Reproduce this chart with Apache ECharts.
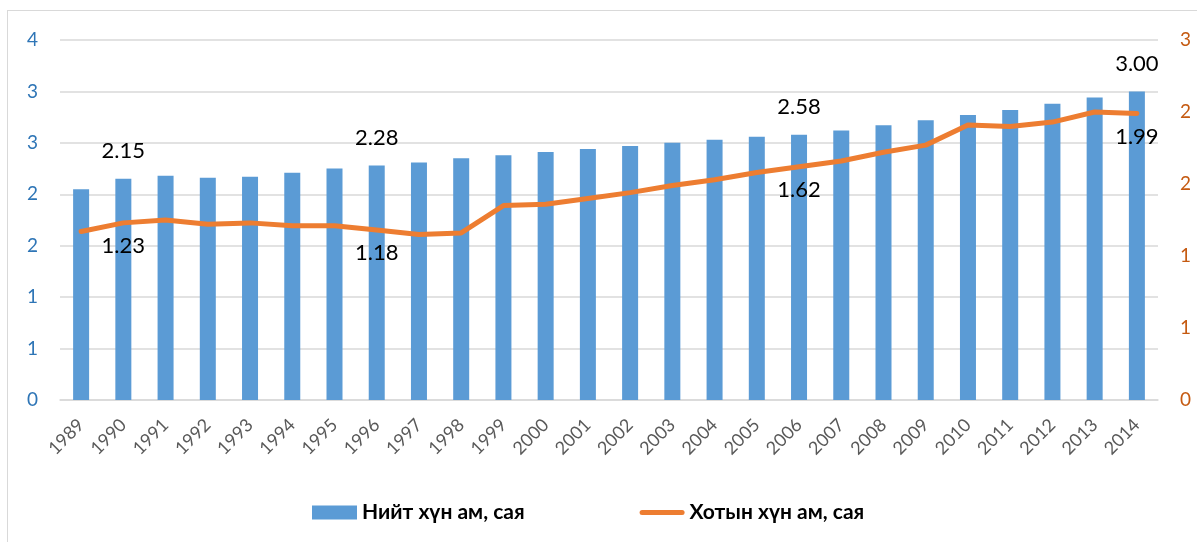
<!DOCTYPE html>
<html>
<head>
<meta charset="utf-8">
<script src="https://cdn.jsdelivr.net/npm/echarts@6/dist/echarts.min.js"></script>
<style>
  html, body { margin: 0; padding: 0; background: #fff; }
  #frame { position: absolute; left: 7px; top: 10px; width: 1300px; height: 600px;
           border-left: 1px solid #d9d9d9; border-top: 1px solid #d9d9d9; }
  #main { position: absolute; left: 0; top: 0; width: 1197px; height: 542px; }
</style>
</head>
<body>
<div id="frame"></div>
<div id="main"></div>
<script>
var years = ["1989", "1990", "1991", "1992", "1993", "1994", "1995", "1996", "1997",
    "1998", "1999", "2000", "2001", "2002", "2003", "2004", "2005", "2006", "2007",
    "2008", "2009", "2010", "2011", "2012", "2013", "2014"];

// total population, million (left axis)
var totalPop = [2.05, 2.15, 2.18, 2.16, 2.17, 2.21, 2.25, 2.28, 2.31, 2.35, 2.38, 2.41, 2.44,
    2.47, 2.50, 2.53, 2.56, 2.58, 2.62, 2.67, 2.72, 2.77, 2.82, 2.88, 2.94, 3.00];

// urban population, million (right axis)
var urbanPop = [1.17, 1.23, 1.25, 1.22, 1.23, 1.21, 1.21, 1.18, 1.15, 1.16, 1.35, 1.36, 1.40,
    1.44, 1.49, 1.53, 1.58, 1.62, 1.66, 1.72, 1.77, 1.91, 1.90, 1.93, 2.00, 1.99];

// points that carry a value label
var labelled = [1, 7, 17, 25];

var seriesNames = ["Нийт хүн ам, сая", "Хотын хүн ам, сая"];

var myChart = echarts.init(document.getElementById("main"), null, { renderer: "canvas" });

function withLabels(arr) {
    return arr.map(function (v, i) {
        return { value: v, label: { show: labelled.indexOf(i) >= 0 } };
    });
}

var font = "Lato, 'Open Sans', sans-serif";

var option = {
    backgroundColor: "transparent",
    animation: false,
    textStyle: { fontFamily: font },
    grid: { left: 60, right: 39, top: 40, bottom: 142 },
    legend: {
        top: 497,
        left: 307,
        itemWidth: 45,
        itemHeight: 14,
        itemGap: 115,
        symbolKeepAspect: true,
        textStyle: { fontSize: 21, fontWeight: "bold", color: "#000", fontFamily: font },
        data: [
            { name: seriesNames[0], icon: "rect" },
            {
                name: seriesNames[1],
                icon: "path://M2.5,0 L42.5,0 A2.5,2.5 0 0 1 42.5,5 L2.5,5 A2.5,2.5 0 0 1 2.5,0 Z",
                itemStyle: { color: "#ED7D31" }
            }
        ]
    },
    xAxis: {
        type: "category",
        data: years,
        axisLine: { lineStyle: { color: "#d9d9d9", width: 1.5 } },
        axisTick: { show: false },
        axisLabel: { rotate: 45, fontSize: 18, color: "#595959", margin: 22, interval: 0 }
    },
    yAxis: [
        {
            type: "value",
            min: 0, max: 3.5, interval: 0.5,
            axisLine: { show: false },
            axisTick: { show: false },
            splitLine: { lineStyle: { color: "#d9d9d9", width: 1.5 } },
            axisLabel: {
                fontSize: 19, color: "#2E75B6", margin: 22,
                formatter: function (v) { return Math.round(v); }
            }
        },
        {
            type: "value",
            min: 0, max: 2.5, interval: 0.5,
            position: "right",
            axisLine: { show: false },
            axisTick: { show: false },
            splitLine: { show: false },
            axisLabel: {
                fontSize: 19, color: "#C55A11", margin: 22,
                formatter: function (v) { return Math.round(v); }
            }
        }
    ],
    series: [
        {
            name: seriesNames[0],
            type: "bar",
            yAxisIndex: 0,
            barWidth: 16,
            itemStyle: { color: "#5B9BD5" },
            label: {
                position: "top", distance: 17, fontSize: 22, color: "#000",
                formatter: function (p) { return p.value.toFixed(2); }
            },
            data: withLabels(totalPop)
        },
        {
            name: seriesNames[1],
            type: "line",
            yAxisIndex: 1,
            showSymbol: true,
            symbol: "circle",
            symbolSize: 0,
            lineStyle: { color: "#ED7D31", width: 5, cap: "round", join: "round" },
            itemStyle: { color: "#ED7D31" },
            label: {
                position: "bottom", distance: 12, fontSize: 22, color: "#000",
                formatter: function (p) { return p.value.toFixed(2); }
            },
            data: withLabels(urbanPop)
        }
    ]
};
option && myChart.setOption(option);
</script>
</body>
</html>
